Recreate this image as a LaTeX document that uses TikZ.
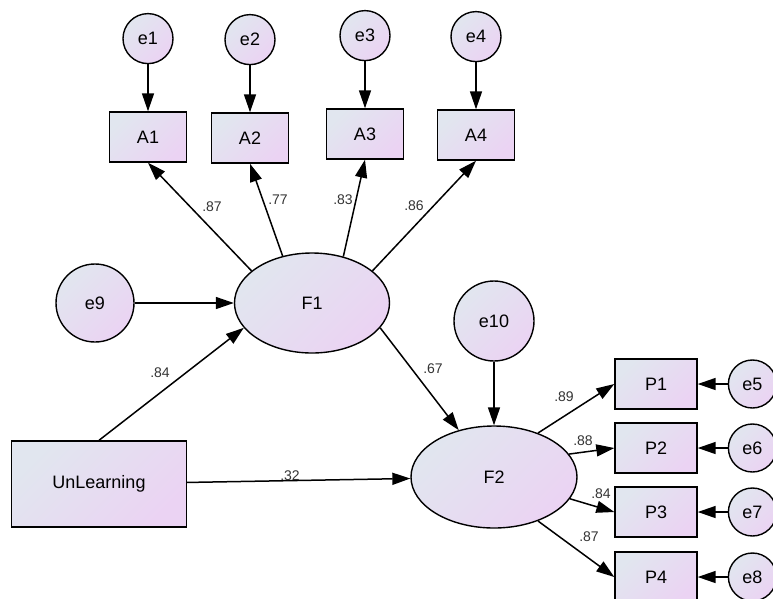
\documentclass[tikz,border=0pt]{standalone}
\usepackage{fontspec}
\setmainfont{Liberation Sans}
\usetikzlibrary{positioning, shapes.geometric, arrows.meta}
\definecolor{amosBlue}{HTML}{E1E6EF}
\definecolor{amosLilac}{HTML}{EBD3F3}
\tikzstyle{shadedFill} = [top color=amosBlue, bottom color=amosLilac, shading angle=45]
\tikzstyle{obsBox} = [shape=rectangle, draw=black, text=black, line width=1.4pt,
	shadedFill, inner sep=0pt, minimum width=77pt, minimum height=50pt]
\tikzstyle{errCircle} = [shape=circle, draw=black, text=black, line width=1.4pt,
	shadedFill, inner sep=0pt, minimum size=50pt]
\tikzstyle{latentEllipse} = [shape=ellipse, draw=black, text=black, line width=1.4pt,
	shadedFill, inner sep=0pt]
\tikzstyle{pathArrow} = [line width=1.5pt, -{Triangle[length=18pt,width=12pt]}, draw=black]
\tikzstyle{coefLabel} = [text=black!80, inner sep=0pt, font=\fontsize{14}{16}\selectfont]

\begin{document}
\begin{tikzpicture}[x=1pt, y=-1pt, font=\fontsize{18}{21}\selectfont]
  \useasboundingbox (0,0) rectangle (773,598);
  % indicators of F1
  \node (A1) at (148,137) [obsBox] {A1};
  \node (A2) at (250,138) [obsBox] {A2};
  \node (A3) at (365,134) [obsBox] {A3};
  \node (A4) at (476,135) [obsBox] {A4};
  \node (e1) [errCircle, above=47pt of A1] {e1};
  \node (e2) [errCircle, above=47pt of A2] {e2};
  \node (e3) [errCircle, above=47pt of A3] {e3};
  \node (e4) [errCircle, above=47pt of A4] {e4};

  \node (F1) at (312,303) [latentEllipse, minimum width=155pt, minimum height=100pt] {F1};
  \node (e9) at (95,303) [errCircle, minimum size=78pt] {e9};
  \node (UnL) at (99,484) [obsBox, minimum width=175pt, minimum height=86pt] {UnLearning};

  \node (F2) at (494,477) [latentEllipse, minimum width=166pt, minimum height=102pt] {F2};
  \node (e10) at (494,321) [errCircle, minimum size=80pt] {e10};

  % indicators of F2
  \node (P1) at (656,384) [obsBox, minimum width=82pt] {P1};
  \node (P2) at (656,448) [obsBox, minimum width=82pt] {P2};
  \node (P3) at (656,512) [obsBox, minimum width=82pt] {P3};
  \node (P4) at (656,577) [obsBox, minimum width=82pt] {P4};
  \node (e5) [errCircle, minimum size=48pt, right=30pt of P1] {e5};
  \node (e6) [errCircle, minimum size=48pt, right=30pt of P2] {e6};
  \node (e7) [errCircle, minimum size=48pt, right=30pt of P3] {e7};
  \node (e8) [errCircle, minimum size=48pt, right=30pt of P4] {e8};

  \draw [pathArrow] (e1) -- (A1);
  \draw [pathArrow] (e2) -- (A2);
  \draw [pathArrow] (e3) -- (A3);
  \draw [pathArrow] (e4) -- (A4);
  \draw [pathArrow] (F1.152) -- (A1.south);
  \draw [pathArrow] (F1.122) -- (A2.south);
  \draw [pathArrow] (F1.56) -- (A3.south);
  \draw [pathArrow] (F1.28) -- (A4.south);
  \draw [pathArrow] (e9) -- (F1);
  \draw [pathArrow] (UnL.north) -- (F1.200);
  \draw [pathArrow] (UnL) -- (F2);
  \draw [pathArrow] (F1.-20) -- (F2.127);
  \draw [pathArrow] (e10) -- (F2);
  \draw [pathArrow] (F2.45) -- (P1.west);
  \draw [pathArrow] (F2.17) -- (P2.west);
  \draw [pathArrow] (F2.-16) -- (P3.west);
  \draw [pathArrow] (F2.-45) -- (P4.west);
  \draw [pathArrow] (e5) -- (P1);
  \draw [pathArrow] (e6) -- (P2);
  \draw [pathArrow] (e7) -- (P3);
  \draw [pathArrow] (e8) -- (P4);

  \node (cA1) at (212,207) [coefLabel] {.87};
  \node (cA2) at (278,200) [coefLabel] {.77};
  \node (cA3) at (343,200) [coefLabel] {.83};
  \node (cA4) at (414,206) [coefLabel] {.86};
  \node (cUF1) at (160,373) [coefLabel] {.84};
  \node (cUF2) at (290,476) [coefLabel] {.32};
  \node (cF1F2) at (433,369) [coefLabel] {.67};
  \node (cP1) at (564,397) [coefLabel] {.89};
  \node (cP2) at (583,441) [coefLabel] {.88};
  \node (cP3) at (601,494) [coefLabel] {.84};
  \node (cP4) at (589,537) [coefLabel] {.87};
\end{tikzpicture}
\end{document}
